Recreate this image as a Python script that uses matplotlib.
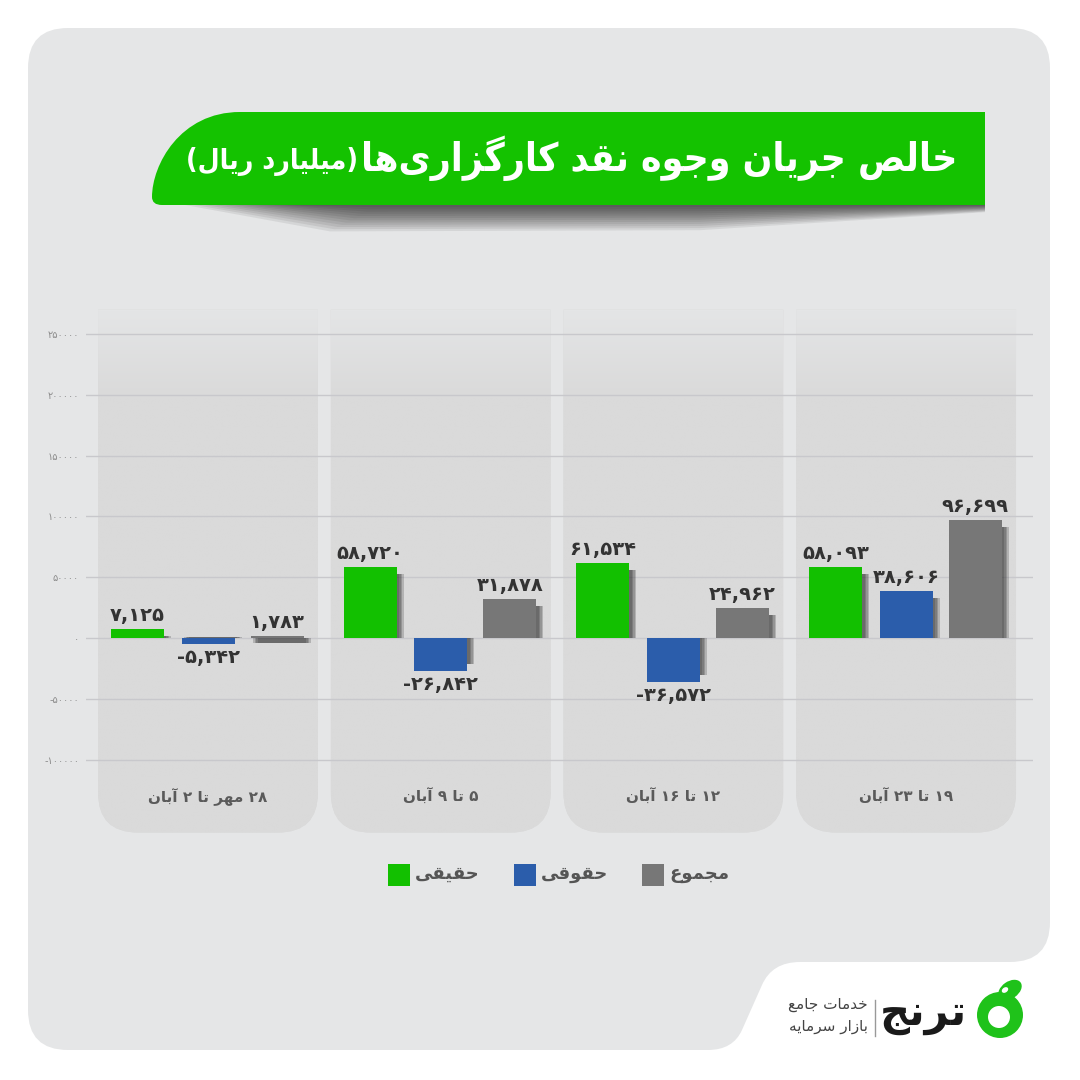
import numpy as np
import matplotlib
matplotlib.use("Agg")
import matplotlib.pyplot as plt
from matplotlib.patches import PathPatch, Rectangle, Circle, Ellipse
from matplotlib.path import Path
from matplotlib.colors import to_rgb

# data (میلیارد ریال)
periods = ["۲۸ مهر تا ۲ آبان", "۵ تا ۹ آبان", "۱۲ تا ۱۶ آبان", "۱۹ تا ۲۳ آبان"]
haghighi = [7125, 58720, 61534, 58093]
hoghooghi = [-5342, -26842, -36572, 38606]
majmoo = [1783, 31878, 24962, 96699]
series_names = ["حقیقی", "حقوقی", "مجموع"]
series_colors = ["#12c000", "#2b5dab", "#777777"]
yticks = [-100000, -50000, 0, 50000, 100000, 150000, 200000, 250000]
title = "خالص جریان وجوه نقد کارگزاری‌ها"
title_unit = "(میلیارد ریال)"
brand = "ترنج"
brand_sub = ["خدمات جامع", "بازار سرمایه"]

# --- tiny persian shaper (matplotlib does no arabic shaping / bidi) ---
FORMS = {
    'ا': ('\uFE8D', '\uFE8E', None, None),
    'آ': ('\uFE81', '\uFE82', None, None),
    'ب': ('\uFE8F', '\uFE90', '\uFE91', '\uFE92'),
    'ت': ('\uFE95', '\uFE96', '\uFE97', '\uFE98'),
    'ج': ('\uFE9D', '\uFE9E', '\uFE9F', '\uFEA0'),
    'ح': ('\uFEA1', '\uFEA2', '\uFEA3', '\uFEA4'),
    'خ': ('\uFEA5', '\uFEA6', '\uFEA7', '\uFEA8'),
    'د': ('\uFEA9', '\uFEAA', None, None),
    'ر': ('\uFEAD', '\uFEAE', None, None),
    'ز': ('\uFEAF', '\uFEB0', None, None),
    'س': ('\uFEB1', '\uFEB2', '\uFEB3', '\uFEB4'),
    'ص': ('\uFEB9', '\uFEBA', '\uFEBB', '\uFEBC'),
    'ع': ('\uFEC9', '\uFECA', '\uFECB', '\uFECC'),
    'ق': ('\uFED5', '\uFED6', '\uFED7', '\uFED8'),
    'ل': ('\uFEDD', '\uFEDE', '\uFEDF', '\uFEE0'),
    'م': ('\uFEE1', '\uFEE2', '\uFEE3', '\uFEE4'),
    'ن': ('\uFEE5', '\uFEE6', '\uFEE7', '\uFEE8'),
    'ه': ('\uFEE9', '\uFEEA', '\uFEEB', '\uFEEC'),
    'و': ('\uFEED', '\uFEEE', None, None),
    'ی': ('\uFBFC', '\uFBFD', '\uFBFE', '\uFBFF'),
    'ک': ('\uFB8E', '\uFB8F', '\uFB90', '\uFB91'),
    'گ': ('\uFB92', '\uFB93', '\uFB94', '\uFB95'),
}
DIGITS = "0123456789۰۱۲۳۴۵۶۷۸۹"


def fa_digits(s):
    return s.translate(str.maketrans("0123456789", "۰۱۲۳۴۵۶۷۸۹"))


def fa(text):
    chars = list(text)
    out = []
    for i, c in enumerate(chars):
        f = FORMS.get(c)
        if f is None:
            out.append(c)
            continue
        prev = chars[i - 1] if i > 0 else None
        nxt = chars[i + 1] if i + 1 < len(chars) else None
        jp = prev in FORMS and FORMS[prev][2] is not None
        jn = f[2] is not None and nxt in FORMS
        if jp and jn:
            out.append(f[3])
        elif jp:
            out.append(f[1])
        elif jn:
            out.append(f[2])
        else:
            out.append(f[0])
    out = [c for c in out if c != '\u200c']
    runs = []
    for c in out:
        isnum = c in DIGITS
        if runs and runs[-1][0] == isnum:
            runs[-1][1].append(c)
        else:
            runs.append((isnum, [c]))
    mirror = {'(': ')', ')': '('}
    res = ""
    for isnum, cs in reversed(runs):
        if isnum:
            res += "".join(cs)
        else:
            res += "".join(mirror.get(c, c) for c in reversed(cs))
    return res


plt.rcParams['font.family'] = ['DejaVu Sans']

fig = plt.figure(figsize=(10.8, 10.8), dpi=100)
fig.patch.set_facecolor("white")

# background canvas in pixel coords
bg = fig.add_axes([0, 0, 1, 1], zorder=0)
bg.set_xlim(0, 1080)
bg.set_ylim(1080, 0)
bg.axis("off")

M, L, C3, C4, CL = Path.MOVETO, Path.LINETO, Path.CURVE3, Path.CURVE4, Path.CLOSEPOLY
panel = [((68, 28), M), ((1010, 28), L), ((1050, 28), C3), ((1050, 68), C3),
         ((1050, 922), L), ((1050, 962), C3), ((1010, 962), C3),
         ((800, 962), L), ((772, 962), C3), ((762, 985), C3),
         ((742, 1030), L), ((733, 1050), C3), ((708, 1050), C3),
         ((68, 1050), L), ((28, 1050), C3), ((28, 1010), C3),
         ((28, 68), L), ((28, 28), C3), ((68, 28), C3), ((68, 28), CL)]
bg.add_patch(PathPatch(Path([v for v, _ in panel], [c for _, c in panel]),
                       facecolor="#e5e6e7", edgecolor="none"))

# title banner shadow (soft curl under the banner)
for k in range(12):
    d = (12 - k)
    sh = [((185 + k * 10, 205), M), ((985, 205), L), ((985, 205 + d * 0.6), L),
          ((700, 205 + d * 2.1), L), ((330 + k * 4, 205 + d * 2.2), L),
          ((185 + k * 10, 205), CL)]
    bg.add_patch(PathPatch(Path([v for v, _ in sh], [c for _, c in sh]),
                           facecolor="#000000", alpha=0.07, edgecolor="none"))
banner = [((985, 112), M), ((240, 112), L), ((180, 112), C4), ((152, 165), C4), ((152, 197), C4),
          ((152, 205), C3), ((162, 205), C3), ((985, 205), L), ((985, 112), CL)]
bg.add_patch(PathPatch(Path([v for v, _ in banner], [c for _, c in banner]),
                       facecolor="#14c200", edgecolor="none"))

t1 = bg.text(957, 158, fa(title), ha="right", va="center", color="white",
             fontsize=30, fontweight="bold", fontstretch="condensed")
fig.canvas.draw()
w = t1.get_window_extent().width
t1.set_fontsize(30 * 595 / w)
fig.canvas.draw()
bb = t1.get_window_extent()
t2 = bg.text(957 - bb.width - 3, 161, fa(title_unit), ha="right", va="center",
             color="white", fontsize=t1.get_fontsize() * 0.7, fontweight="bold",
             fontstretch="condensed")
fig.canvas.draw()
w2 = t2.get_window_extent().width
t2.set_fontsize(t2.get_fontsize() * (957 - bb.width - 3 - 185) / w2)

# legend
leg_x = [388, 514, 642]
for x, name, col in zip(leg_x, series_names, series_colors):
    bg.add_patch(Rectangle((x, 864), 22, 22, facecolor=col, edgecolor="none"))
    bg.text(x + 27, 874, fa(name), ha="left", va="center", fontsize=13,
            fontweight="bold", color="#555555")

# logo
bg.add_patch(Circle((1000, 1015), 23, facecolor="#1fc21a", edgecolor="none"))
bg.add_patch(Ellipse((1010, 990), 26, 17, angle=-35, facecolor="#1fc21a", edgecolor="none"))
bg.add_patch(Circle((999, 1017), 11, facecolor="white", edgecolor="none"))
bg.add_patch(Ellipse((1005, 990), 7, 5, angle=-35, facecolor="white", edgecolor="none"))
bg.text(967, 1014, fa(brand), ha="right", va="center", fontsize=30,
        fontweight="bold", color="#1a1a1a")
bg.plot([875, 875], [1000, 1036], color="#999999", lw=1)
bg.text(868, 1004, fa(brand_sub[0]), ha="right", va="center", fontsize=11, color="#444444")
bg.text(868, 1026, fa(brand_sub[1]), ha="right", va="center", fontsize=11, color="#444444")

# --- chart axes ---
px_y = 1000 / 1.216        # data units per pixel (vertical)
px_x = 1 / 232.7           # data units per pixel (horizontal)
ax = fig.add_axes([86 / 1080, 1 - 840 / 1080, (1033 - 86) / 1080, 540 / 1080], zorder=1)
ax.patch.set_alpha(0)
ylo, yhi = -(840 - 638) * px_y, (638 - 300) * px_y
xlo, xhi = (86 - 208) * px_x, (1033 - 208) * px_x

x = np.arange(len(periods))
col_w = 0.945
ytop, ybot = 270000, -160000
rx, ry = 40 * px_x, 40 * px_y
top_c = np.array(to_rgb("#e4e5e6"))
bot_c = np.array(to_rgb("#dadada"))
ys = np.linspace(ybot, ytop, 200)
tt = np.clip((ys - 200000) / (ytop - 200000), 0, 1)[:, None]
grad = (bot_c * (1 - tt) + top_c * tt)[:, None, :]
for xi in x:
    x0, x1 = xi - col_w / 2, xi + col_w / 2
    verts = [(x0, ytop), (x0, ybot + ry), (x0, ybot), (x0 + rx, ybot), (x1 - rx, ybot),
             (x1, ybot), (x1, ybot + ry), (x1, ytop), (x0, ytop)]
    codes = [M, L, C3, C3, L, C3, C3, L, CL]
    patch = PathPatch(Path(verts, codes), facecolor="#dadada", edgecolor="none", zorder=0.2)
    ax.add_patch(patch)
    im = ax.imshow(grad, extent=(x0, x1, ybot, ytop), origin="lower", aspect="auto",
                   zorder=0.3, interpolation="bilinear")
    im.set_clip_path(patch)
    ax.text(xi, -130800, fa(periods[xi]), ha="center", va="center", fontsize=11,
            fontweight="bold", color="#5a5a5a", zorder=4)

bar_w = 53 * px_x
offsets = [-0.303, 0.0, 0.297]
for vals, off, col in zip([haghighi, hoghooghi, majmoo], offsets, series_colors):
    xs = x + off
    # soft drop shadow on the right side
    for k in range(4):
        dx = (7 - 1.5 * k) * px_x
        sh_h = [v - np.sign(v) * 7 * px_y for v in vals]
        ax.bar(xs + dx, sh_h, width=bar_w, color="#2a2a2a", alpha=0.22, zorder=2.5,
               linewidth=0)
    ax.bar(xs, vals, width=bar_w, color=col, zorder=3, linewidth=0)
    for xv, v in zip(xs, vals):
        lab = fa_digits(f"{v:,}")
        if v >= 0:
            ax.text(xv, v + 4 * px_y, lab, ha="center", va="bottom", fontsize=14,
                    fontweight="bold", color="#333333", zorder=4)
        else:
            ax.text(xv, v - 4 * px_y, lab, ha="center", va="top", fontsize=14,
                    fontweight="bold", color="#333333", zorder=4)

ax.set_xlim(xlo, xhi)
ax.set_ylim(ylo, yhi)
ax.set_yticks(yticks)
ax.set_yticklabels([fa_digits(str(t)) for t in yticks], fontsize=7, color="#8c8c8c")
ax.set_xticks([])
ax.tick_params(axis="y", length=0, pad=5)
ax.yaxis.grid(True, color="#c8c8cc", lw=1)
ax.set_axisbelow(True)
for s in ax.spines.values():
    s.set_visible(False)

fig.savefig("out.png", dpi=100, facecolor="white")
